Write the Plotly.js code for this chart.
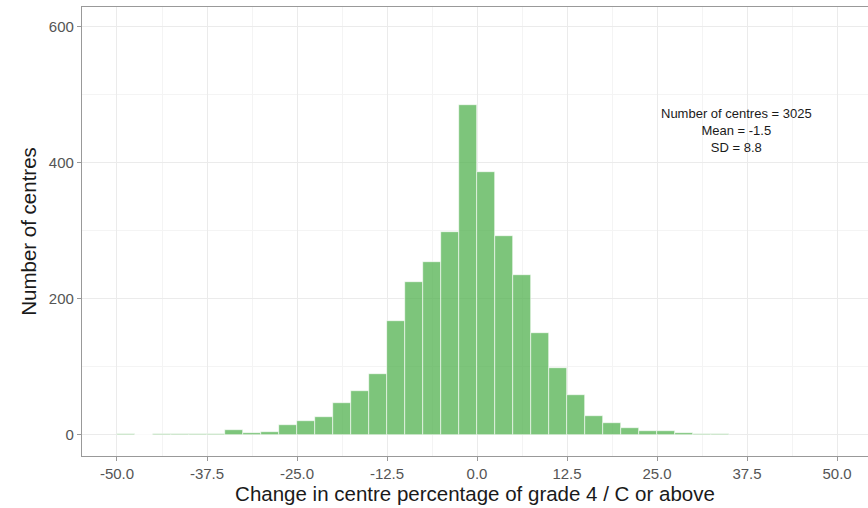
<!DOCTYPE html>
<html>
<head>
<meta charset="utf-8">
<script src="https://cdn.plot.ly/plotly-3.0.1.min.js"></script>
<style>
  html, body { margin: 0; padding: 0; background: #fff; }
  #chart { width: 868px; height: 508px; }
</style>
</head>
<body>
<div id="chart"></div>
<script>
// lower edge of each 2.5-point bin
var binStart = [-50, -47.5, -45, -42.5, -40, -37.5, -35, -32.5, -30, -27.5,
                -25, -22.5, -20, -17.5, -15, -12.5, -10, -7.5, -5, -2.5,
                0, 2.5, 5, 7.5, 10, 12.5, 15, 17.5, 20, 22.5,
                25, 27.5, 30, 32.5];
var centres = [1, 0, 1, 1, 1, 2, 7, 3, 4, 14,
               21, 26, 47, 64, 90, 168, 225, 255, 299, 485,
               387, 292, 235, 150, 99, 59, 28, 17, 11, 6,
               6, 3, 1, 1];
var binWidth = 2.5;

var xTicks = [-50, -37.5, -25, -12.5, 0, 12.5, 25, 37.5, 50];
var xTickText = ["-50.0", "-37.5", "-25.0", "-12.5", "0.0", "12.5", "25.0", "37.5", "50.0"];
var yTicks = [0, 200, 400, 600];

var statsText = ["Number of centres = 3025", "Mean = -1.5", "SD = 8.8"];

var data = [{
  type: "bar",
  x: binStart,
  y: centres,
  width: binWidth,
  offset: 0,
  marker: {
    color: "rgba(77,175,74,0.73)",
    line: { color: "#ffffff", width: 0.6 }
  },
  hoverinfo: "x+y"
}];

var layout = {
  width: 868, height: 508,
  margin: { l: 82, r: 0, t: 7, b: 52 },
  paper_bgcolor: "#ffffff",
  plot_bgcolor: "#ffffff",
  showlegend: false,
  bargap: 0,
  font: { family: "Liberation Sans, Arial, sans-serif", color: "#4d4d4d" },
  xaxis: {
    range: [-54.86, 54.3],
    tickvals: xTicks,
    ticktext: xTickText,
    tickfont: { size: 15, color: "#555555" },
    ticks: "outside", ticklen: 4, tickcolor: "#999999", tickwidth: 1,
    showgrid: true, gridcolor: "#ebebeb", gridwidth: 1,
    minor: { tick0: -50, dtick: 6.25, showgrid: true, gridcolor: "#f4f4f4", gridwidth: 1 },
    zeroline: false,
    showline: true, linecolor: "#999999", linewidth: 1.2, mirror: true,
    title: { text: "Change in centre percentage of grade 4 / C or above", font: { size: 20.5, color: "#1a1a1a" }, standoff: 2 }
  },
  yaxis: {
    range: [-30.9, 629.4],
    tickvals: yTicks,
    tickfont: { size: 15, color: "#555555" },
    ticks: "outside", ticklen: 4, tickcolor: "#999999", tickwidth: 1,
    showgrid: true, gridcolor: "#ebebeb", gridwidth: 1,
    minor: { tick0: 0, dtick: 100, showgrid: true, gridcolor: "#f4f4f4", gridwidth: 1 },
    zeroline: false,
    showline: true, linecolor: "#999999", linewidth: 1.2, mirror: false,
    title: { text: "Number of centres", font: { size: 20.5, color: "#1a1a1a" }, standoff: 6 }
  },
  annotations: [{
    x: 36.1, y: 448,
    xref: "x", yref: "y",
    text: statsText.join("<br>"),
    showarrow: false,
    align: "center",
    font: { size: 13, color: "#1a1a1a" }
  }]
};

Plotly.newPlot("chart", data, layout, { displayModeBar: false, responsive: false });
</script>
</body>
</html>
